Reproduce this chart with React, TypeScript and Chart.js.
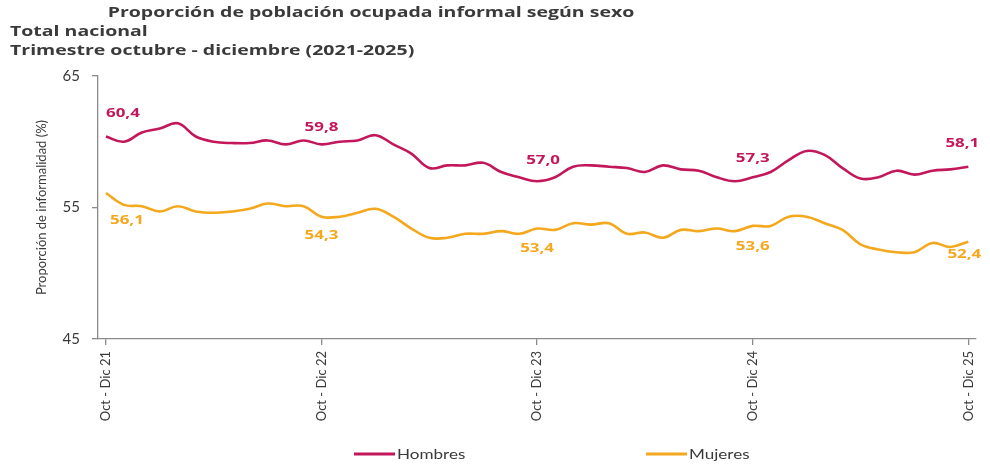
import React, { useEffect, useRef } from "react";
import { Chart, registerables } from "chart.js";

Chart.register(...registerables);

// ---- Data ----
const tickLabels = ["Oct - Dic 21", "Oct - Dic 22", "Oct - Dic 23", "Oct - Dic 24", "Oct - Dic 25"];
const tickEvery = 12;
const yTicks = [45, 55, 65];
const hombres = [
  60.4, 60.0, 60.7, 61.0, 61.4, 60.4, 60.0, 59.9, 59.9, 60.1, 59.8, 60.1,
  59.8, 60.0, 60.1, 60.5, 59.8, 59.1, 58.0, 58.2, 58.2, 58.4, 57.7, 57.3,
  57.0, 57.3, 58.1, 58.2, 58.1, 58.0, 57.7, 58.2, 57.9, 57.8, 57.3, 57.0,
  57.3, 57.7, 58.6, 59.3, 59.0, 58.0, 57.2, 57.3, 57.8, 57.5, 57.8, 57.9,
  58.1,
];
const mujeres = [
  56.1, 55.2, 55.1, 54.7, 55.1, 54.7, 54.6, 54.7, 54.9, 55.3, 55.1, 55.1,
  54.3, 54.3, 54.6, 54.9, 54.3, 53.4, 52.7, 52.7, 53.0, 53.0, 53.2, 53.0,
  53.4, 53.3, 53.8, 53.7, 53.8, 53.0, 53.1, 52.7, 53.3, 53.2, 53.4, 53.2,
  53.6, 53.6, 54.3, 54.3, 53.8, 53.3, 52.2, 51.8, 51.6, 51.6, 52.3, 52.0,
  52.4,
];
const labeledIdx = [0, 12, 24, 36, 48];
const seriesNames = ["Hombres", "Mujeres"];
const titleLines = [
  "Proporción de población ocupada informal según sexo",
  "Total nacional",
  "Trimestre octubre - diciembre (2021-2025)",
];
const yTitle = "Proporción de informalidad (%)";

// ---- Styles ----
const RED = "#C2185B";
const ORANGE = "#F4A81D";
const TEXT = "#3a3a3a";
const AXIS = "#8a8a8a";
const STRETCH = 1.3;
const labelOffsets = [
  [[17, -23], [0, -17], [6, -21], [0, -19], [-6, -23]],
  [[21, 27], [0, 19], [0, 20], [0, 20], [-4, 13]],
];

function drawStretched(ctx: CanvasRenderingContext2D, text: string, x: number, y: number, sx: number) {
  ctx.save();
  ctx.translate(x, y);
  ctx.scale(sx, 1);
  ctx.fillText(text, 0, 0);
  ctx.restore();
}

const overlayPlugin = {
  id: "overlay",
  afterDraw(chart: any) {
    const ctx = chart.ctx;
    ctx.save();
    // titles
    ctx.fillStyle = TEXT;
    ctx.font = "bold 15px 'Open Sans'";
    ctx.textBaseline = "middle";
    ctx.textAlign = "center";
    drawStretched(ctx, titleLines[0], 371, 13, STRETCH);
    ctx.textAlign = "left";
    drawStretched(ctx, titleLines[1], 10, 32, STRETCH);
    drawStretched(ctx, titleLines[2], 10, 51, STRETCH);

    // data labels
    ctx.font = "bold 13px 'Open Sans'";
    ctx.textAlign = "center";
    chart.data.datasets.forEach((ds: any, d: number) => {
      const meta = chart.getDatasetMeta(d);
      ctx.fillStyle = ds.borderColor;
      labeledIdx.forEach((idx, k) => {
        const pt = meta.data[idx];
        const v = ds.data[idx].y;
        const [dx, dy] = labelOffsets[d][k];
        drawStretched(ctx, v.toFixed(1).replace(".", ","), pt.x + dx, pt.y + dy, STRETCH);
      });
    });

    // legend
    const items = [
      { x: 354, color: RED, name: seriesNames[0] },
      { x: 646, color: ORANGE, name: seriesNames[1] },
    ];
    const ly = 454;
    ctx.font = "14px Lato";
    ctx.textAlign = "left";
    items.forEach((it) => {
      ctx.strokeStyle = it.color;
      ctx.lineWidth = 3;
      ctx.beginPath();
      ctx.moveTo(it.x, ly);
      ctx.lineTo(it.x + 41, ly);
      ctx.stroke();
      ctx.fillStyle = TEXT;
      drawStretched(ctx, it.name, it.x + 43, ly, 1.22);
    });
    ctx.restore();
  },
};

export default function App() {
  const ref = useRef<HTMLCanvasElement | null>(null);
  useEffect(() => {
    document.body.style.margin = "0";
    const canvas = ref.current;
    if (!canvas) return;
    const chart = new Chart(canvas, {
      type: "line",
      data: {
        datasets: [
          {
            label: seriesNames[0],
            data: hombres.map((v, i) => ({ x: i, y: v })),
            borderColor: RED,
            backgroundColor: RED,
            borderWidth: 2.6,
            pointRadius: 0,
            tension: 0.4,
          },
          {
            label: seriesNames[1],
            data: mujeres.map((v, i) => ({ x: i, y: v })),
            borderColor: ORANGE,
            backgroundColor: ORANGE,
            borderWidth: 2.6,
            pointRadius: 0,
            tension: 0.4,
          },
        ],
      },
      options: {
        animation: false,
        responsive: false,
        devicePixelRatio: 1,
        layout: { padding: { left: 0, right: 10, top: 76, bottom: 0 } },
        plugins: {
          legend: { display: false },
          title: { display: false },
          tooltip: { enabled: false },
        },
        scales: {
          x: {
            type: "linear",
            min: -0.44,
            max: 48.4,
            afterBuildTicks: (s: any) => {
              s.ticks = tickLabels.map((_, k) => ({ value: k * tickEvery }));
            },
            afterFit: (s: any) => {
              s.height = 464 - 339;
            },
            ticks: {
              minRotation: 90,
              maxRotation: 90,
              autoSkip: false,
              padding: 6,
              color: TEXT,
              font: { family: "Lato", size: 13 },
              callback: (_v: any, i: number) => tickLabels[i],
            },
            grid: {
              display: true,
              drawOnChartArea: false,
              drawTicks: true,
              tickLength: 6,
              color: AXIS,
              lineWidth: 1.3,
            },
            border: { display: true, color: AXIS, width: 1.3 },
          },
          y: {
            min: 45,
            max: 65,
            afterBuildTicks: (s: any) => {
              s.ticks = yTicks.map((v) => ({ value: v }));
            },
            afterFit: (s: any) => {
              s.width = 98;
            },
            ticks: {
              padding: 12,
              color: TEXT,
              font: { family: "Lato", size: 15 },
              callback: (v: any) => String(v),
            },
            title: {
              display: true,
              text: yTitle,
              color: TEXT,
              font: { family: "Lato", size: 13 },
              padding: { top: 34, bottom: 0 },
            },
            grid: {
              display: true,
              drawOnChartArea: false,
              drawTicks: true,
              tickLength: 6,
              color: AXIS,
              lineWidth: 1.3,
            },
            border: { display: true, color: AXIS, width: 1.3 },
          },
        },
      },
      plugins: [overlayPlugin],
    });
    return () => chart.destroy();
  }, []);
  return (
    <div style={{ width: 990, height: 464, background: "#fff" }}>
      <canvas ref={ref} width={990} height={464} style={{ display: "block", width: 990, height: 464 }} />
    </div>
  );
}
